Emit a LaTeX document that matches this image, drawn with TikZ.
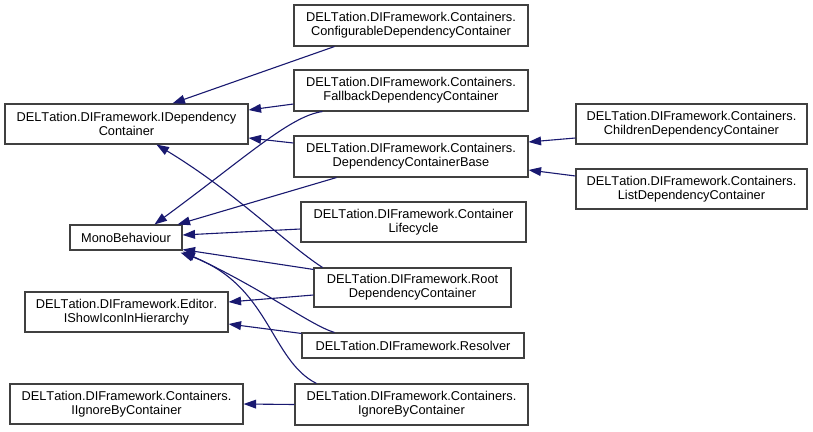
\documentclass[tikz,border=0pt]{standalone}
\usepackage{fontspec}
\setmainfont{Liberation Sans}[Kerning=Off]
\usetikzlibrary{arrows.meta,calc}
\definecolor{edgeblue}{HTML}{191970}
\begin{document}
\begin{tikzpicture}[x=1pt,y=-1pt,
  cls/.style={draw=black!75,line width=1.1pt,fill=white,inner sep=0pt,align=center,
    font=\fontsize{12.8}{14}\selectfont},
  inh/.style={draw=edgeblue,line width=1.1pt,-{Triangle[length=12.5pt,width=8.75pt]}}]
\useasboundingbox[fill=white] (0,0) rectangle (813,431);
% left column
\node[cls,minimum width=243pt,minimum height=40pt] (idc) at (126.5,124) {DELTation.DIFramework.IDependency\\Container};
\node[cls,minimum width=112pt,minimum height=25pt] (mono) at (126,237.5) {MonoBehaviour};
\node[cls,minimum width=203pt,minimum height=40pt] (ishow) at (126.5,312) {DELTation.DIFramework.Editor.\\IShowIconInHierarchy};
\node[cls,minimum width=233pt,minimum height=40pt] (iignore) at (126.5,404) {DELTation.DIFramework.Containers.\\IIgnoreByContainer};
% middle column
\node[cls,minimum width=234pt,minimum height=41pt] (conf) at (411,25.5) {DELTation.DIFramework.Containers.\\ConfigurableDependencyContainer};
\node[cls,minimum width=234pt,minimum height=41pt] (fall) at (411,90.5) {DELTation.DIFramework.Containers.\\FallbackDependencyContainer};
\node[cls,minimum width=234pt,minimum height=41pt] (base) at (411,156.5) {DELTation.DIFramework.Containers.\\DependencyContainerBase};
\node[cls,minimum width=225pt,minimum height=40pt] (life) at (413.5,222) {DELTation.DIFramework.Container\\Lifecycle};
\node[cls,minimum width=197pt,minimum height=39pt] (root) at (412.5,287.5) {DELTation.DIFramework.Root\\DependencyContainer};
\node[cls,minimum width=222pt,minimum height=25pt] (resolver) at (413,345.5) {DELTation.DIFramework.Resolver};
\node[cls,minimum width=233pt,minimum height=41pt] (ignore) at (411.5,404.5) {DELTation.DIFramework.Containers.\\IgnoreByContainer};
% right column
\node[cls,minimum width=231pt,minimum height=40pt] (children) at (691.5,124) {DELTation.DIFramework.Containers.\\ChildrenDependencyContainer};
\node[cls,minimum width=231pt,minimum height=40pt] (list) at (691.5,189) {DELTation.DIFramework.Containers.\\ListDependencyContainer};
% edges
\draw[inh] ($(conf.south west)+(41,0)$) -- ($(idc.north west)+(168,0)$);
\draw[inh] ($(fall.west)+(0,13.5)$) -- ($(idc.east)+(0,-14)$);
\draw[inh] ($(base.west)+(0,-13.5)$) -- ($(idc.east)+(0,14)$);
\draw[inh] ($(fall.south west)+(29,0)$) .. controls (290,116) and (245,158) .. ($(mono.north west)+(85,0)$);
\draw[inh] ($(base.south west)+(43,0)$) -- ($(mono.north east)+(-5,0)$);
\draw[inh] ($(life.west)+(0,7)$) -- ($(mono.east)+(0,-2.5)$);
\draw[inh] ($(root.north west)+(9,0)$) .. controls (285,243) and (235,192) .. ($(idc.south west)+(152,0)$);
\draw[inh] ($(root.north west)+(0,2)$) -- ($(mono.south east)+(0,-1)$);
\draw[inh] ($(root.west)+(0,7.5)$) -- ($(ishow.east)+(0,-10)$);
\draw[inh] ($(resolver.north west)+(33,0)$) .. controls (310,325) and (265,290) .. ($(mono.south east)+(0,1)$);
\draw[inh] ($(resolver.north west)+(0,1)$) -- ($(ishow.east)+(0,12)$);
\draw[inh] ($(ignore.north west)+(22,0)$) .. controls (270,360) and (270,285) .. ($(mono.south east)+(-2,2)$);
\draw[inh] (ignore.west) -- (iignore.east);
\draw[inh] ($(children.west)+(0,14)$) -- ($(base.east)+(0,-14.5)$);
\draw[inh] ($(list.west)+(0,-13)$) -- ($(base.east)+(0,13.5)$);
\end{tikzpicture}
\end{document}
